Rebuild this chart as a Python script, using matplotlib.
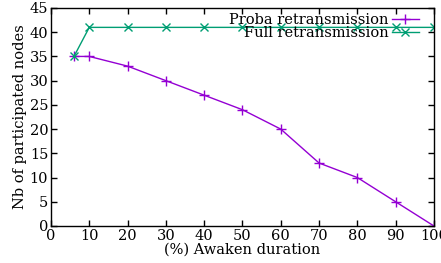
import matplotlib
matplotlib.use('Agg')
import matplotlib.pyplot as plt

awaken = [6, 10, 20, 30, 40, 50, 60, 70, 80, 90, 100]
proba = [35, 35, 33, 30, 27, 24, 20, 13, 10, 5, 0]
full = [35, 41, 41, 41, 41, 41, 41, 41, 41, 41, 41]

plt.rcParams['font.family'] = ['DejaVu Serif']
plt.rcParams['font.size'] = 10.5

fig = plt.figure(figsize=(4.41, 2.63), dpi=100)
ax = fig.add_axes([0.1156, 0.1407, 0.8684, 0.8289])

ax.plot(awaken, proba, color='#9400d3', lw=1, marker='+', ms=7, mew=1,
        label='Proba retransmission')
ax.plot(awaken, full, color='#009e73', lw=1, marker='x', ms=6, mew=1,
        label='Full retransmission')

ax.set_xlim(0, 100)
ax.set_ylim(0, 45)
ax.set_xticks(range(0, 101, 10))
ax.set_yticks(range(0, 46, 5))
ax.tick_params(direction='in', top=True, right=True, length=4, width=1, pad=2)
for s in ax.spines.values():
    s.set_linewidth(1)
ax.set_xlabel('(%) Awaken duration', labelpad=0)
ax.set_ylabel('Nb of participated nodes', labelpad=2)

leg = ax.legend(loc='upper right', frameon=False, markerfirst=False,
                handlelength=1.85, handletextpad=0.2, labelspacing=-0.05,
                borderaxespad=0.0, bbox_to_anchor=(0.975, 1.005))
for t in leg.get_texts():
    t.set_ha('right')

fig.savefig('out.png', dpi=100)
